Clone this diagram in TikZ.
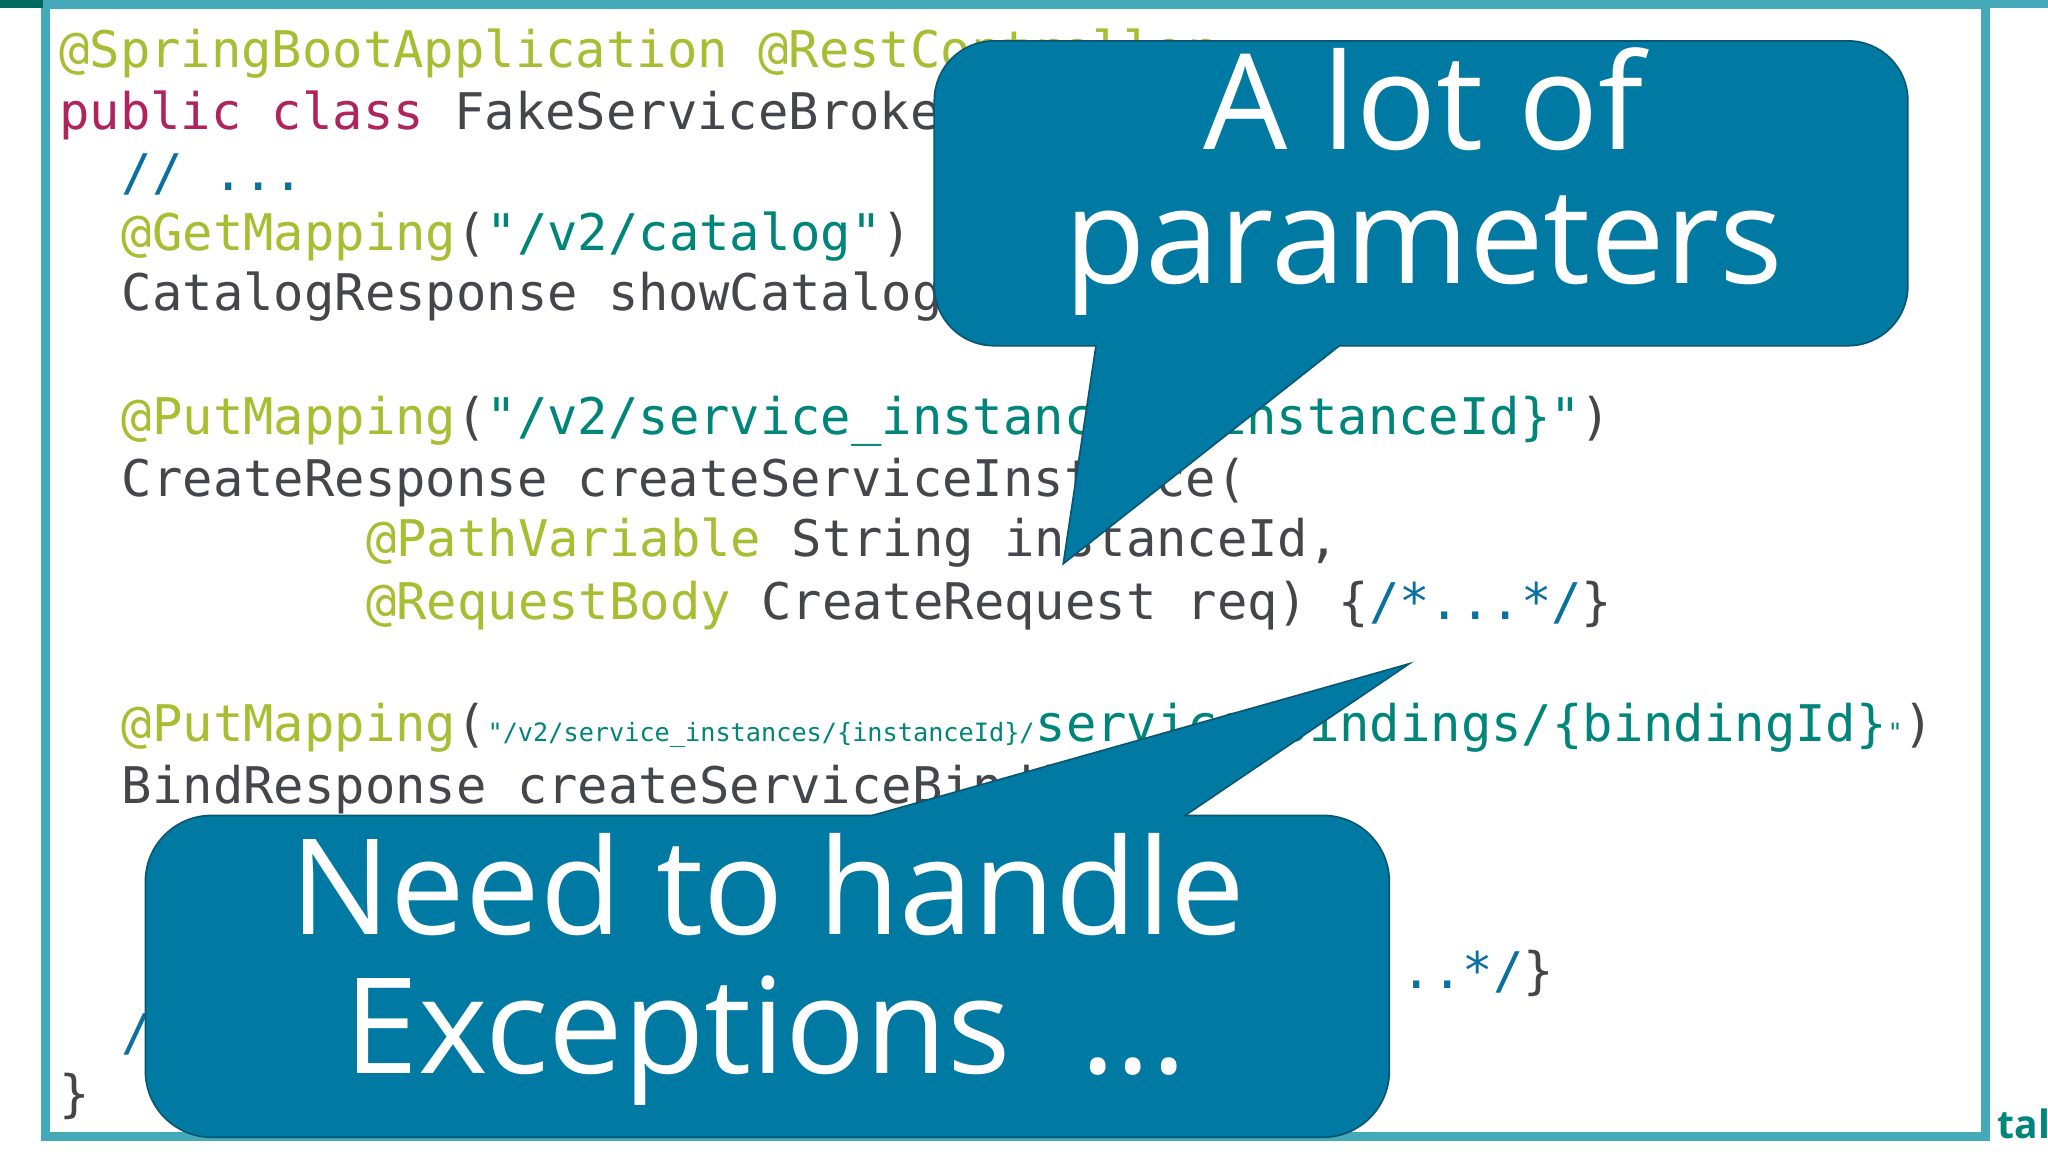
\documentclass[tikz,border=0pt]{standalone}
\usepackage{fontspec}
\newfontfamily\codefont{DejaVu Sans Mono}
\newfontfamily\bubfont{Open Sans}
\definecolor{cAnn}{HTML}{A6BE32}
\definecolor{cKey}{HTML}{B0245E}
\definecolor{cStr}{HTML}{00857A}
\definecolor{cCom}{HTML}{0A70A0}
\definecolor{cTxt}{HTML}{45454C}
\definecolor{cBub}{HTML}{007AA2}
\definecolor{cBubL}{HTML}{0B5570}
\definecolor{cFrame}{HTML}{44A9B9}
\newcommand\myann[1]{\textcolor{cAnn}{#1}}
\newcommand\mykey[1]{\textcolor{cKey}{#1}}
\newcommand\mystr[1]{\textcolor{cStr}{#1}}
\newcommand\mycom[1]{\textcolor{cCom}{#1}}
\tikzset{
  code/.style={anchor=base west,inner sep=0pt,text=cTxt,font=\codefont\fontsize{22}{22}\selectfont},
  small/.style={anchor=base west,inner sep=0pt,text=cStr,font=\codefont\fontsize{11}{11}\selectfont},
  bubtext/.style={inner sep=0pt,text=white,font=\bubfont\fontsize{58}{58}\selectfont},
  bubline/.style={draw=cBubL,line width=1.5pt},
}
\begin{document}
\begin{tikzpicture}[x=0.02cm,y=-0.02cm]
\useasboundingbox (0,0) rectangle (1568,882);
\fill[white] (0,0) rectangle (1568,882);
% frame
\draw[cFrame,line width=4pt] (35,3) rectangle (1520,870);
\fill[cFrame] (1520,0) rectangle (1568,6);
\fill[cStr!80!black] (0,0) rectangle (33,6);
\node[anchor=base east,inner sep=0pt,text=cStr,font=\bubfont\bfseries\fontsize{17}{17}\selectfont] (logo) at (1570,872) {tal};
% code
\node[code] (l1) at (45,52) {\myann{@SpringBootApplication} \myann{@RestController}};
\node[code] (l2) at (45,99) {\mykey{public} \mykey{class} FakeServiceBrokerController \{};
\node[code] (l3) at (93,146) {\mycom{// ...}};
\node[code] (l4) at (93,192) {\myann{@GetMapping}(\mystr{"/v2/catalog"})};
\node[code] (l5) at (93,238) {CatalogResponse showCatalog() \{\mycom{/*...*/}\}};
\node[code] (l7) at (93,333) {\myann{@PutMapping}(\mystr{"/v2/service\_instances/\{instanceId\}"})};
\node[code] (l8) at (93,380) {CreateResponse createServiceInstance(};
\node[code] (l9) at (280,426) {\myann{@PathVariable} String instanceId,};
\node[code] (l10) at (280,474) {\myann{@RequestBody} CreateRequest req) \{\mycom{/*...*/}\}};
\node[code] (l12a) at (93,568) {\myann{@PutMapping}(};
\node[small] (l12b) at (l12a.base east) {"/v2/service\_instances/\{instanceId\}/};
\node[code,text=cStr] (l12c) at (l12b.base east) {service\_bindings/\{bindingId\}};
\node[small] (l12d) at (l12c.base east) {"};
\node[code] (l12e) at (l12d.base east) {)};
\node[code] (l13) at (93,615) {BindResponse createServiceBinding(};
\node[code,anchor=base east] (l16) at (1190,757) {\{\mycom{/*...*/}\}};
\node[code] (l17) at (93,804) {\mycom{// ...}};
\node[code] (l18) at (45,851) {\}};
% bubble 1
\draw[bubline,rounded corners=0.9cm] (716,32) rectangle (1460,264);
\draw[bubline] (842,250) -- (815,430) -- (1043,250);
\fill[cBub,rounded corners=0.9cm] (716,32) rectangle (1460,264);
\fill[cBub] (842,250) -- (815,430) -- (1043,250) -- cycle;
\node[bubtext] (b1a) at (1090,76) {A lot of};
\node[bubtext] (b1b) at (1090,196) {parameters};
% bubble 2
\draw[bubline,rounded corners=1cm] (112,625) rectangle (1063,870);
\draw[bubline] (615,640) -- (1075,510) -- (883,640);
\fill[cBub,rounded corners=1cm] (112,625) rectangle (1063,870);
\fill[cBub] (615,640) -- (1075,510) -- (883,640) -- cycle;
\node[bubtext] (b2a) at (588,677) {Need to handle};
\node[bubtext] (b2b) at (586,797) {Exceptions\ \ ...};
\end{tikzpicture}
\end{document}
